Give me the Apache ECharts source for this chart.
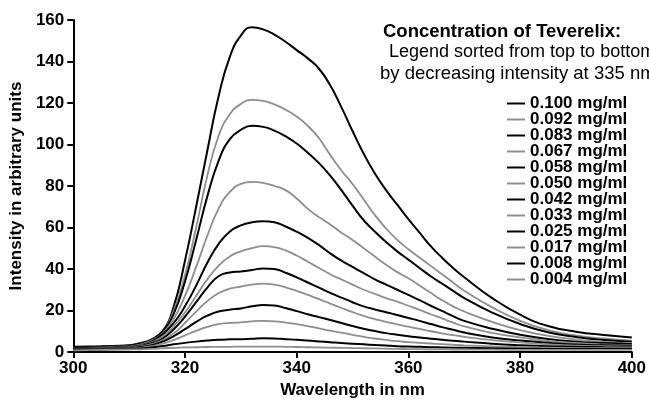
<!DOCTYPE html>
<html>
<head>
    <meta charset="UTF-8">
    <title>Teverelix fluorescence spectra</title>
    <script src="https://cdn.jsdelivr.net/npm/echarts@6/dist/echarts.min.js"></script>
    <style>
        body {
            margin: 0;
            padding: 0;
            background: #fff;
        }

        #chart {
            width: 649px;
            height: 404px;
        }
    </style>
</head>
<body>
<div id="chart"></div>
<script>
    // wavelengths (nm)
    var wavelengths = [300, 305, 310, 312, 314, 316, 318, 320, 322, 324, 326, 328, 330, 332, 334, 336, 338, 340,
        342, 344, 346, 348, 350, 352, 354, 356, 358, 360, 362, 364, 366, 368, 370, 375, 380, 385, 390, 395, 400];

    // legend order = decreasing intensity at 335 nm
    var concentrations = ['0.100 mg/ml', '0.092 mg/ml', '0.083 mg/ml', '0.067 mg/ml', '0.058 mg/ml', '0.050 mg/ml',
        '0.042 mg/ml', '0.033 mg/ml', '0.025 mg/ml', '0.017 mg/ml', '0.008 mg/ml', '0.004 mg/ml'];

    var c100 = [2.5, 2.8, 3.2, 4.3, 6, 10, 22, 44, 70, 97, 123, 142, 152.5, 156.5, 155.5, 153, 149.5, 145.5,
        141.5, 136.5, 128.5, 118, 106.5, 95.5, 86, 78, 71, 64, 57.5, 51, 45.5, 40.5, 36, 26, 18, 12.5, 9.8, 8.2, 7];
    var c092 = [2, 2.5, 3, 4, 6, 10, 20, 37, 60, 85, 104, 114.5, 119.5, 121.5, 121, 119.3, 116.8, 113.5,
        109, 103, 95, 87.5, 81, 73.5, 66, 59.5, 54, 49.5, 45.5, 41.5, 37.5, 33.5, 29.5, 21.5, 15, 10.5, 8, 6.5, 5.5];
    var c083 = [2, 2.5, 3, 4, 6, 10, 18.5, 34, 54, 75, 92, 102.5, 107, 109, 108.5, 106.7, 104, 100.5,
        96, 91, 85, 78, 70.5, 63.5, 58, 53, 48.5, 44.5, 40.5, 36.5, 33, 29.5, 26, 19, 13.5, 9.5, 7.2, 5.8, 5];
    var c067 = [1.8, 2.2, 2.8, 3.6, 5.5, 9, 16, 27, 41, 56, 69, 77, 81, 82, 81.5, 80, 78, 74,
        69, 65, 61.5, 57.5, 54, 50, 46, 42, 38.5, 35.5, 32, 28.5, 25, 22, 19.5, 14.5, 10.5, 7.8, 6, 4.9, 4.3];
    var c058 = [1.8, 2.2, 2.6, 3.2, 5, 8.5, 14, 22, 32, 43, 52, 58, 61, 62.5, 63, 62.5, 60.5, 58,
        55, 51.5, 47.5, 44, 41, 38, 35, 32.5, 30, 27.5, 25, 22.3, 19.8, 17.3, 15, 11.2, 8.3, 6.3, 5, 4.3, 3.8];
    var c050 = [1.5, 2, 2.5, 3.1, 4.7, 7.5, 12.5, 19, 27, 35, 41.5, 46, 48.5, 50, 51, 50.5, 49, 46.5,
        43.5, 40.5, 37.5, 35, 32.5, 30, 28, 26, 24.3, 22.3, 20.3, 18.2, 16.2, 14.2, 12.3, 9.2, 7, 5.3, 4.3, 3.7, 3.3];
    var c042 = [1.5, 1.8, 2.3, 2.9, 4.2, 6.5, 11, 17, 24, 31, 36.5, 38.3, 38.8, 39.5, 40.3, 40, 38.2, 36,
        33.5, 31, 28.5, 26.2, 24, 22, 20.5, 19.2, 17.8, 16.4, 15, 13.5, 12, 10.7, 9.4, 7, 5.5, 4.4, 3.6, 3.2, 3];
    var c033 = [1.3, 1.7, 2.2, 2.7, 3.8, 5.7, 9, 14, 19.5, 24.5, 28.3, 30.5, 31.5, 32.5, 33, 32.5, 31.2, 29.5,
        27.5, 25.5, 23.3, 21.2, 19.2, 17.4, 15.9, 14.5, 13.3, 12.2, 11.1, 10, 9, 8.1, 7.3, 5.7, 4.6, 3.7, 3.1, 2.8, 2.6];
    var c025 = [1.2, 1.5, 2, 2.4, 3.3, 5, 7.7, 11, 14.5, 17.5, 19.5, 20.4, 21, 22, 22.6, 22.4, 21.2, 19.7,
        18.2, 16.8, 15.4, 14, 12.5, 11.2, 10.1, 9.1, 8.3, 7.6, 7, 6.4, 5.9, 5.4, 5, 4, 3.3, 2.8, 2.5, 2.3, 2.2];
    var c017 = [1, 1.3, 1.7, 2, 2.8, 4, 5.8, 8, 10.2, 12.1, 13.4, 14, 14.3, 14.8, 15, 14.8, 14.2, 13.4,
        12.5, 11.4, 10.3, 9.3, 8.3, 7.3, 6.5, 5.8, 5.2, 4.8, 4.4, 4.1, 3.8, 3.5, 3.2, 2.7, 2.3, 2.1, 1.9, 1.8, 1.8];
    var c008 = [1, 1.2, 1.5, 1.7, 2.2, 2.9, 3.7, 4.4, 5, 5.5, 5.9, 6.1, 6.2, 6.4, 6.6, 6.5, 6.2, 5.9,
        5.5, 5.1, 4.7, 4.3, 4, 3.7, 3.4, 3.1, 2.8, 2.6, 2.5, 2.3, 2.2, 2.1, 2, 1.8, 1.6, 1.5, 1.4, 1.4, 1.4];
    var c004 = [0.8, 1, 1.2, 1.3, 1.5, 1.8, 2, 2.2, 2.3, 2.4, 2.5, 2.5, 2.6, 2.6, 2.6, 2.6, 2.5, 2.4,
        2.3, 2.2, 2.1, 2, 1.9, 1.8, 1.7, 1.6, 1.5, 1.4, 1.35, 1.3, 1.25, 1.2, 1.15, 1.1, 1, 1, 1, 1, 1];

    var allValues = [c100, c092, c083, c067, c058, c050, c042, c033, c025, c017, c008, c004];

    var FONT = 'Liberation Sans, Arial, Helvetica, sans-serif';

    var series = [];
    for (var i = 0; i < concentrations.length; i++) {
        var pts = [];
        for (var j = 0; j < wavelengths.length; j++) {
            pts.push([wavelengths[j], allValues[i][j]]);
        }
        // black and grey lines alternate
        var black = (i % 2 == 0);
        series.push({
            name: concentrations[i],
            type: 'line',
            data: pts,
            symbol: 'none',
            smooth: true,
            silent: true,
            lineStyle: {
                color: black ? '#000' : '#8e8e8e',
                width: black ? 2 : 1.8
            },
            itemStyle: {
                color: black ? '#000' : '#8e8e8e'
            }
        });
    }

    var chart = echarts.init(document.getElementById('chart'), null, {renderer: 'canvas'});
    var option = {
        animation: false,
        backgroundColor: '#fff',
        grid: {
            left: 73,
            right: 13,
            top: 20,
            bottom: 52
        },
        xAxis: {
            type: 'value',
            min: 300,
            max: 400,
            interval: 20,
            name: 'Wavelength in nm',
            nameLocation: 'middle',
            nameGap: 30,
            nameTextStyle: {
                color: '#000',
                fontFamily: FONT,
                fontWeight: 'bold',
                fontSize: 17
            },
            axisLine: {
                lineStyle: {color: '#000', width: 2}
            },
            axisTick: {
                length: 6,
                lineStyle: {color: '#000', width: 2}
            },
            axisLabel: {
                color: '#000',
                fontFamily: FONT,
                fontWeight: 'bold',
                fontSize: 17,
                margin: 8
            },
            splitLine: {show: false}
        },
        yAxis: {
            type: 'value',
            min: 0,
            max: 160,
            interval: 20,
            name: 'Intensity in arbitrary units',
            nameLocation: 'middle',
            nameGap: 46,
            nameTextStyle: {
                color: '#000',
                fontFamily: FONT,
                fontWeight: 'bold',
                fontSize: 17
            },
            axisLine: {
                show: true,
                lineStyle: {color: '#000', width: 2}
            },
            axisTick: {
                show: true,
                length: 6,
                lineStyle: {color: '#000', width: 2}
            },
            axisLabel: {
                color: '#000',
                fontFamily: FONT,
                fontWeight: 'bold',
                fontSize: 17,
                margin: 9
            },
            splitLine: {show: false}
        },
        legend: {
            data: concentrations,
            orient: 'vertical',
            left: 507,
            top: 95,
            padding: 0,
            icon: 'rect',
            itemWidth: 18,
            itemHeight: 2,
            itemGap: -1,
            selectedMode: false,
            textStyle: {
                color: '#000',
                fontFamily: FONT,
                fontWeight: 'bold',
                fontSize: 17
            }
        },
        graphic: [
            {
                type: 'text',
                left: 383,
                top: 22,
                style: {
                    text: 'Concentration of Teverelix:',
                    fill: '#000',
                    font: 'bold 18.5px ' + FONT
                }
            },
            {
                type: 'text',
                left: 389,
                top: 43,
                style: {
                    text: 'Legend sorted from top to bottom',
                    fill: '#000',
                    font: '18px ' + FONT
                }
            },
            {
                type: 'text',
                left: 380,
                top: 64,
                style: {
                    text: 'by decreasing intensity at 335 nm',
                    fill: '#000',
                    font: '18.5px ' + FONT
                }
            }
        ],
        series: series
    };
    chart.setOption(option);
</script>
</body>
</html>
